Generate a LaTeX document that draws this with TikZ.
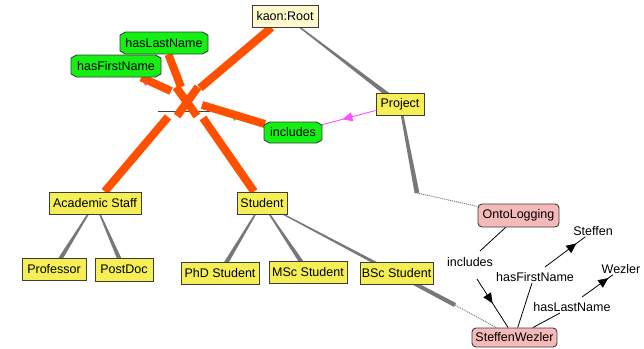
\documentclass[tikz,border=0pt]{standalone}
\usepackage{fontspec}
\setmainfont{Liberation Sans}
\usetikzlibrary{shapes.misc,arrows.meta,decorations.markings,calc}
\definecolor{cyel}{RGB}{245,238,85}
\definecolor{croot}{RGB}{255,250,205}
\definecolor{cgreen}{RGB}{20,240,20}
\definecolor{cpink}{RGB}{245,185,185}
\definecolor{cborder}{RGB}{60,60,60}
\definecolor{corange}{RGB}{255,80,0}
\definecolor{cmag}{RGB}{255,80,255}
\definecolor{cedge}{RGB}{120,120,120}
\pgfdeclarelayer{background}
\pgfsetlayers{background,main}
\newcommand\taperline[4]{%
  \fill[cedge] ($(#1)!#3!90:(#2)$) -- ($(#2)!#4!-90:(#1)$) -- ($(#2)!#4!90:(#1)$) -- ($(#1)!#3!-90:(#2)$) -- cycle;}
\begin{document}
\begin{tikzpicture}[x=1pt,y=-1pt,
  font=\fontsize{12.5}{14}\selectfont,
  cls/.style={draw=cborder, line width=0.9pt, fill=cyel, inner sep=0pt, minimum height=22pt},
  rootbox/.style={cls, fill=croot},
  prop/.style={chamfered rectangle, chamfered rectangle xsep=2pt, chamfered rectangle ysep=2pt, chamfered rectangle angle=60, draw=cborder, line width=0.9pt, fill=cgreen, inner sep=0pt, minimum height=22pt},
  inst/.style={draw=cborder, line width=0.9pt, fill=cpink, rounded corners=4pt, inner sep=0pt},
  lbl/.style={inner sep=1pt},
  orangeline/.style={draw=corange, line width=8pt},
  dotedge/.style={draw=cedge, line width=1pt, dash pattern=on 1pt off 1pt},
  relline/.style={draw=black, line width=0.8pt},
  midarrow/.style={postaction={decorate}, decoration={markings, mark=at position #1 with {\arrow{Triangle[length=10pt,width=9pt]}}}},
  magarrow/.style={draw=cmag, line width=0.9pt, postaction={decorate}, decoration={markings, mark=at position #1 with {\arrow[cmag]{Triangle[length=10pt,width=9pt]}}}}
  ]
\useasboundingbox (0,0) rectangle (644,348);

% nodes
\node[rootbox, minimum width=66pt] (root) at (285,16) {kaon:Root};
\node[prop, minimum width=88pt] (hln) at (164,43) {hasLastName};
\node[prop, minimum width=90pt] (hfn) at (116,66) {hasFirstName};
\node[prop, minimum width=58pt, minimum height=21pt] (incl) at (293,132.5) {includes};
\node[cls, minimum width=48pt] (proj) at (400,104) {Project};
\node[cls, minimum width=92pt] (acad) at (95,203) {Academic Staff};
\node[cls, minimum width=50pt] (stud) at (262,203) {Student};
\node[cls, minimum width=64pt] (prof) at (54,269) {Professor};
\node[cls, minimum width=58pt, minimum height=23pt] (pdoc) at (124,269.5) {PostDoc};
\node[cls, minimum width=78pt] (phd) at (220,273) {PhD Student};
\node[cls, minimum width=78pt] (msc) at (308,272) {MSc Student};
\node[cls, minimum width=73pt] (bsc) at (396.5,273) {BSc Student};
\node[inst, minimum width=81pt, minimum height=23pt] (onto) at (518.5,215.5) {OntoLogging};
\node[inst, minimum width=85pt, minimum height=19pt] (sw) at (514.5,337.5) {SteffenWezler};
\node[lbl] (steffen) at (593,231) {Steffen};
\node[lbl] (wezler) at (621,269) {Wezler};
\node[lbl] (lincl) at (470,262) {includes};
\node[lbl] (lhfn) at (535,277) {hasFirstName};
\node[lbl] (lhln) at (572,307) {hasLastName};

% coordinates
\coordinate (oR) at (200,88);
\coordinate (oL) at (181,87);
\coordinate (oF) at (171,91);
\coordinate (oI) at (202,105);
\coordinate (oA) at (168,117);
\coordinate (oS) at (203,118);
\coordinate (x1a) at (176,87);
\coordinate (x1b) at (197,116);
\coordinate (x2a) at (198,87);
\coordinate (x2b) at (177,116);
\coordinate (hl1) at (158,111);
\coordinate (hl2) at (210,111);
\coordinate (b1) at (417,193);
\coordinate (s1) at (455,305);
\coordinate (i1) at (480,251);
\coordinate (i2) at (477,279);
\coordinate (f1) at (532,283);
\coordinate (f2) at (545,267);
\coordinate (l1) at (560,313);
\coordinate (l2) at (582,297);

\begin{pgfonlayer}{background}
  % subclass / instance edges
  \taperline{root}{proj}{0.5pt}{2.4pt}
  \taperline{proj}{b1}{1.2pt}{2.4pt}
  \draw[dotedge] (b1) -- (onto);
  \taperline{acad}{prof}{0.5pt}{2.4pt}
  \taperline{acad}{pdoc}{0.5pt}{2.4pt}
  \taperline{stud}{phd}{0.5pt}{2.4pt}
  \taperline{stud}{msc}{0.5pt}{2.4pt}
  \taperline{stud}{s1}{0.5pt}{2.2pt}
  \draw[dotedge] (s1) -- (sw);
  % magenta property edge
  \draw[magarrow=0.62] (proj) -- (incl);
  % small hidden arrow fragments
  \fill[cmag] (143,80) -- (149,82) -- (145,86) -- cycle;
  \fill[cmag] (169,64) -- (173,66) -- (171,71) -- cycle;
  \fill[cgreen] (232,115) -- (238,117) -- (234,121) -- cycle;
  % thin line under the cross
  \draw[line width=1pt, draw=black!75] (hl1) -- (hl2);
  % orange selection lines
  \draw[orangeline] (root) -- (oR);
  \draw[orangeline] (hln) -- (oL);
  \draw[orangeline] (hfn) -- (oF);
  \draw[orangeline] (incl) -- (oI);
  \draw[orangeline] (acad) -- (oA);
  \draw[orangeline] (stud) -- (oS);
  \draw[orangeline] (x1a) -- (x1b);
  \draw[orangeline] (x2a) -- (x2b);
\end{pgfonlayer}

% instance relations
\draw[relline] (onto) -- (i1);
\draw[relline, midarrow=0.5] (i2) -- (sw);
\draw[relline] (sw) -- (f1);
\draw[relline, midarrow=0.78] (f2) -- (steffen);
\draw[relline] (sw) -- (l1);
\draw[relline, midarrow=0.85] (l2) -- (wezler);
\end{tikzpicture}
\end{document}
